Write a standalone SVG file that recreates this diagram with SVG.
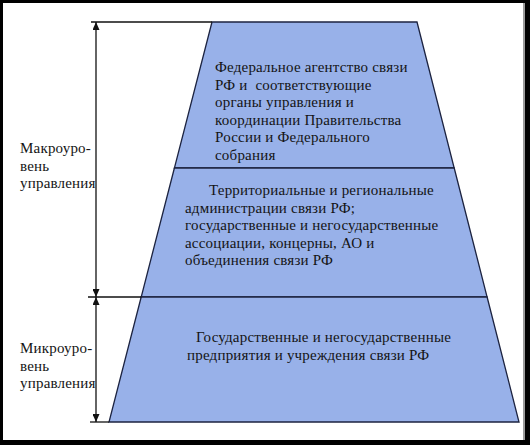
<svg xmlns="http://www.w3.org/2000/svg" width="530" height="445" viewBox="0 0 530 445">
  <style>
    .tier { fill: #98b1e9; stroke: #1c2340; stroke-width: 1.3; }
    text { font-family: 'Liberation Serif', 'Times New Roman', serif; font-size: 15px; fill: #141414; letter-spacing: 0.2px; }
    .ln { stroke: #111; stroke-width: 1.3; fill: none; }
    .arr { stroke: #111; stroke-width: 1.3; fill: none; marker-start: url(#ah); marker-end: url(#ah); }
  </style>
  <defs>
    <marker id="ah" markerUnits="userSpaceOnUse" markerWidth="8" markerHeight="7" refX="8" refY="3.5" orient="auto-start-reverse">
      <path d="M0,0 L8,3.5 L0,7 z" fill="#111"/>
    </marker>
  </defs>

  <!-- frame -->
  <rect x="0" y="0" width="530" height="445" fill="#000"/>
  <rect x="3" y="3" width="520" height="437" fill="#fff"/>
  <rect x="523" y="3" width="2" height="437" fill="#9a9a9a"/>

  <g id="tier-federal" font-family="Liberation Serif, serif">
    <polygon class="tier" points="212,22 417,22 454.2,168 174.4,168"/>
    <text x="215" y="72">Федеральное агентство связи</text>
    <text x="215" y="89.6" xml:space="preserve">РФ и  соответствующие</text>
    <text x="215" y="107.2">органы управления и</text>
    <text x="215" y="124.8">координации Правительства</text>
    <text x="215" y="142.4">России и Федерального</text>
    <text x="215" y="160">собрания</text>
  </g>

  <g id="tier-regional" font-family="Liberation Serif, serif">
    <polygon class="tier" points="174.4,168 454.2,168 487.1,297 141.2,297"/>
    <text x="209" y="195">Территориальные и региональные</text>
    <text x="185" y="212.6">администрации связи РФ;</text>
    <text x="185" y="230.2">государственные и негосударственные</text>
    <text x="185" y="247.8">ассоциации, концерны, АО и</text>
    <text x="185" y="265.4">объединения связи РФ</text>
  </g>

  <g id="tier-enterprises" font-family="Liberation Serif, serif">
    <polygon class="tier" points="141.2,297 487.1,297 519,422 109,422"/>
    <text x="196" y="342">Государственные и негосударственные</text>
    <text x="187" y="359.6">предприятия и учреждения связи РФ</text>
  </g>

  <g id="label-macro" font-family="Liberation Serif, serif">
    <text x="20" y="153">Макроуро-</text>
    <text x="20" y="170.5">вень</text>
    <text x="20" y="188">управления</text>
  </g>

  <g id="label-micro" font-family="Liberation Serif, serif">
    <text x="20" y="353">Микроуро-</text>
    <text x="20" y="370.5">вень</text>
    <text x="20" y="388">управления</text>
  </g>

  <g id="connectors">
    <line class="ln" x1="91" y1="22" x2="212" y2="22"/>
    <line class="ln" x1="88" y1="297" x2="141.2" y2="297"/>
    <line class="ln" x1="90" y1="422" x2="109" y2="422"/>
    <line class="arr" x1="96" y1="22" x2="96" y2="297"/>
    <line class="arr" x1="96" y1="297" x2="96" y2="422"/>
  </g>
</svg>
